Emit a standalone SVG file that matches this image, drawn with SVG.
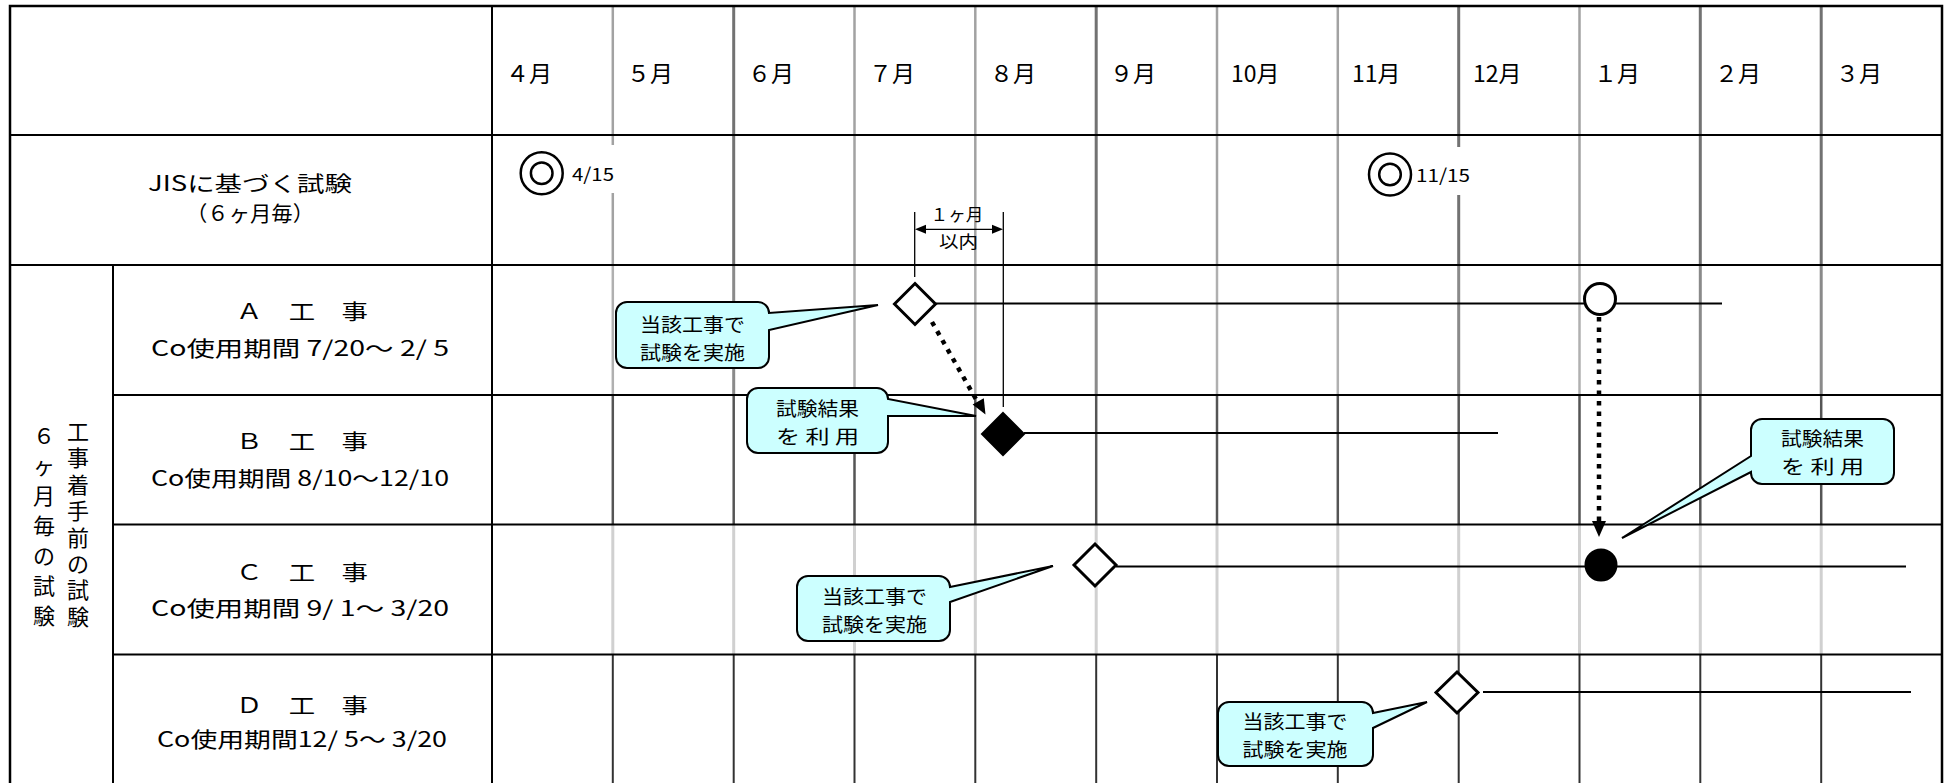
<svg xmlns="http://www.w3.org/2000/svg" width="1945" height="783" viewBox="0 0 1945 783">
<defs>
<style>
text{font-family:"Noto Sans CJK JP","Liberation Sans",sans-serif;fill:#000;dominant-baseline:central}
.mon{font-size:23px}
.lbl{font-size:21px;text-anchor:middle}
.vt{font-size:22px;text-anchor:middle}
.cl{font-size:19px;text-anchor:middle}
.sm{font-size:18px}
.dim{font-size:17px;text-anchor:middle}
.grid{stroke:#000;stroke-width:2;fill:none}
.lt{stroke:#a2a2a2;stroke-width:2.5}
.dk{stroke:#727272;stroke-width:3}
.la{stroke:#b0b0b0;stroke-width:2.5}
.da{stroke:#8a8a8a;stroke-width:3}
.lb{stroke:#555;stroke-width:2.5}
.lc{stroke:#d0d0d0;stroke-width:3}
.ld{stroke:#333;stroke-width:2}
.bar{stroke:#000;stroke-width:2;fill:none}
.thin{stroke:#000;stroke-width:1.3;fill:none}
.dot{stroke:#000;stroke-width:4.5;stroke-dasharray:4.5 6;fill:none}
.open{fill:#fff;stroke:#000;stroke-width:3}
.fill{fill:#000;stroke:#000;stroke-width:2}
.call{fill:#ccffff;stroke:#000;stroke-width:2}
.ring{fill:none;stroke:#000;stroke-width:2.5}
</style>
</defs>
<rect x="0" y="0" width="1945" height="783" fill="#fff"/>

<g id="month-lines">
<g>
<line class="lt" x1="612.8" y1="7" x2="612.8" y2="265"/>
<line class="dk" x1="733.7" y1="7" x2="733.7" y2="265"/>
<line class="lt" x1="854.5" y1="7" x2="854.5" y2="265"/>
<line class="lt" x1="975.3" y1="7" x2="975.3" y2="265"/>
<line class="dk" x1="1096.2" y1="7" x2="1096.2" y2="265"/>
<line class="lt" x1="1217" y1="7" x2="1217" y2="265"/>
<line class="lt" x1="1337.8" y1="7" x2="1337.8" y2="265"/>
<line class="dk" x1="1458.7" y1="7" x2="1458.7" y2="265"/>
<line class="lt" x1="1579.5" y1="7" x2="1579.5" y2="265"/>
<line class="dk" x1="1700.3" y1="7" x2="1700.3" y2="265"/>
<line class="dk" x1="1821.2" y1="7" x2="1821.2" y2="265"/>
</g>
<g>
<line class="la" x1="612.8" y1="265" x2="612.8" y2="395"/>
<line class="da" x1="733.7" y1="265" x2="733.7" y2="395"/>
<line class="la" x1="854.5" y1="265" x2="854.5" y2="395"/>
<line class="la" x1="975.3" y1="265" x2="975.3" y2="395"/>
<line class="da" x1="1096.2" y1="265" x2="1096.2" y2="395"/>
<line class="la" x1="1217" y1="265" x2="1217" y2="395"/>
<line class="la" x1="1337.8" y1="265" x2="1337.8" y2="395"/>
<line class="da" x1="1458.7" y1="265" x2="1458.7" y2="395"/>
<line class="la" x1="1579.5" y1="265" x2="1579.5" y2="395"/>
<line class="da" x1="1700.3" y1="265" x2="1700.3" y2="395"/>
<line class="da" x1="1821.2" y1="265" x2="1821.2" y2="395"/>
</g>
<g class="lb">
<line x1="612.8" y1="395" x2="612.8" y2="525"/>
<line x1="733.7" y1="395" x2="733.7" y2="525"/>
<line x1="854.5" y1="395" x2="854.5" y2="525"/>
<line x1="975.3" y1="395" x2="975.3" y2="525"/>
<line x1="1096.2" y1="395" x2="1096.2" y2="525"/>
<line x1="1217" y1="395" x2="1217" y2="525"/>
<line x1="1337.8" y1="395" x2="1337.8" y2="525"/>
<line x1="1458.7" y1="395" x2="1458.7" y2="525"/>
<line x1="1579.5" y1="395" x2="1579.5" y2="525"/>
<line x1="1700.3" y1="395" x2="1700.3" y2="525"/>
<line x1="1821.2" y1="395" x2="1821.2" y2="525"/>
</g>
<g class="lc">
<line x1="612.8" y1="525" x2="612.8" y2="655"/>
<line x1="733.7" y1="525" x2="733.7" y2="655"/>
<line x1="854.5" y1="525" x2="854.5" y2="655"/>
<line x1="975.3" y1="525" x2="975.3" y2="655"/>
<line x1="1096.2" y1="525" x2="1096.2" y2="655"/>
<line x1="1217" y1="525" x2="1217" y2="655"/>
<line x1="1337.8" y1="525" x2="1337.8" y2="655"/>
<line x1="1458.7" y1="525" x2="1458.7" y2="655"/>
<line x1="1579.5" y1="525" x2="1579.5" y2="655"/>
<line x1="1700.3" y1="525" x2="1700.3" y2="655"/>
<line x1="1821.2" y1="525" x2="1821.2" y2="655"/>
</g>
<g class="ld">
<line x1="612.8" y1="655" x2="612.8" y2="783"/>
<line x1="733.7" y1="655" x2="733.7" y2="783"/>
<line x1="854.5" y1="655" x2="854.5" y2="783"/>
<line x1="975.3" y1="655" x2="975.3" y2="783"/>
<line x1="1096.2" y1="655" x2="1096.2" y2="783"/>
<line x1="1217" y1="655" x2="1217" y2="783"/>
<line x1="1337.8" y1="655" x2="1337.8" y2="783"/>
<line x1="1458.7" y1="655" x2="1458.7" y2="783"/>
<line x1="1579.5" y1="655" x2="1579.5" y2="783"/>
<line x1="1700.3" y1="655" x2="1700.3" y2="783"/>
<line x1="1821.2" y1="655" x2="1821.2" y2="783"/>
</g>
</g>

<g id="table-grid" class="grid">
<path d="M10,790 V6 H1942 V790" stroke-width="2.5"/>
<line x1="10" y1="135" x2="1942" y2="135"/>
<line x1="10" y1="265" x2="1942" y2="265"/>
<line x1="113" y1="395" x2="1942" y2="395"/>
<line x1="113" y1="524.5" x2="1942" y2="524.5"/>
<line x1="113" y1="654.5" x2="1942" y2="654.5"/>
<line x1="113" y1="265" x2="113" y2="790"/>
<line x1="492" y1="6" x2="492" y2="790"/>
</g>

<g id="month-header" class="mon">
<text x="506" y="72">４月</text>
<text x="627" y="72">５月</text>
<text x="748" y="72">６月</text>
<text x="869" y="72">７月</text>
<text x="990" y="72">８月</text>
<text x="1110" y="72">９月</text>
<text x="1231" y="72">10月</text>
<text x="1352" y="72">11月</text>
<text x="1473" y="72">12月</text>
<text x="1594" y="72">１月</text>
<text x="1715" y="72">２月</text>
<text x="1836" y="72">３月</text>
</g>

<g id="jis-label">
<text class="lbl" x="250" y="182" textLength="204" lengthAdjust="spacingAndGlyphs">JISに基づく試験</text>
<text class="lbl" x="250" y="212" textLength="128" lengthAdjust="spacingAndGlyphs">（６ヶ月毎）</text>
</g>

<g id="side-label-6months" class="vt">
<text><tspan x="44" y="434">６</tspan><tspan x="44" y="464">ヶ</tspan><tspan x="44" y="494">月</tspan><tspan x="44" y="524">毎</tspan><tspan x="44" y="554">の</tspan><tspan x="44" y="584">試</tspan><tspan x="44" y="614">験</tspan></text>
</g>
<g id="side-label-pre" class="vt">
<text><tspan x="78" y="430">工</tspan><tspan x="78" y="456.4">事</tspan><tspan x="78" y="482.8">着</tspan><tspan x="78" y="509.2">手</tspan><tspan x="78" y="535.6">前</tspan><tspan x="78" y="562">の</tspan><tspan x="78" y="588.4">試</tspan><tspan x="78" y="614.8">験</tspan></text>
</g>

<g id="row-A-label">
<text class="lbl" x="302" y="310" textLength="132" lengthAdjust="spacingAndGlyphs">Ａ　工　事</text>
<text class="lbl" x="300" y="347" textLength="298" lengthAdjust="spacingAndGlyphs">Co使用期間 7/20～ 2/ 5</text>
</g>
<g id="row-B-label">
<text class="lbl" x="302" y="440" textLength="132" lengthAdjust="spacingAndGlyphs">Ｂ　工　事</text>
<text class="lbl" x="300" y="477" textLength="298" lengthAdjust="spacingAndGlyphs">Co使用期間 8/10～12/10</text>
</g>
<g id="row-C-label">
<text class="lbl" x="302" y="571" textLength="132" lengthAdjust="spacingAndGlyphs">Ｃ　工　事</text>
<text class="lbl" x="300" y="607" textLength="298" lengthAdjust="spacingAndGlyphs">Co使用期間 9/ 1～ 3/20</text>
</g>
<g id="row-D-label">
<text class="lbl" x="302" y="704" textLength="132" lengthAdjust="spacingAndGlyphs">Ｄ　工　事</text>
<text class="lbl" x="302" y="738" textLength="290" lengthAdjust="spacingAndGlyphs">Co使用期間12/ 5～ 3/20</text>
</g>

<g id="jis-test-0415">
<circle cx="541.7" cy="173.3" r="21" fill="#fff" stroke="#000" stroke-width="2.5"/>
<circle class="ring" cx="541.7" cy="173.3" r="10.8"/>
<rect x="568" y="145" width="51" height="48" fill="#fff"/>
<text class="sm" x="572" y="173" textLength="42" lengthAdjust="spacingAndGlyphs">4/15</text>
</g>
<g id="jis-test-1115">
<circle cx="1390" cy="174.5" r="21" fill="#fff" stroke="#000" stroke-width="2.5"/>
<circle class="ring" cx="1390" cy="174.5" r="10.8"/>
<rect x="1413" y="147" width="59" height="48" fill="#fff"/>
<text class="sm" x="1416" y="174" textLength="54" lengthAdjust="spacingAndGlyphs">11/15</text>
</g>

<g id="connectors">
<line class="bar" x1="936" y1="303.5" x2="1722" y2="303.5"/>
<line class="bar" x1="1024" y1="433" x2="1498" y2="433"/>
<line class="bar" x1="1116" y1="566.5" x2="1906" y2="566.5"/>
<line class="bar" x1="1483" y1="692" x2="1911" y2="692"/>
<line class="thin" x1="914.7" y1="212" x2="914.7" y2="277"/>
<line class="thin" x1="1003.3" y1="212" x2="1003.3" y2="407"/>
<line class="thin" x1="924" y1="229.3" x2="994" y2="229.3"/>
<polygon points="915,229.3 926,224.8 926,233.8" fill="#000"/>
<polygon points="1003,229.3 992,224.8 992,233.8" fill="#000"/>
<line class="dot" x1="932" y1="322" x2="977" y2="401"/>
<polygon points="985.5,414.5 972.6,404.6 983.8,398.2" fill="#000"/>
<line class="dot" x1="1599" y1="317" x2="1599" y2="522"/>
<polygon points="1599,537 1592,521 1606,521" fill="#000"/>
</g>

<g id="dimension-label">
<text class="dim" x="957" y="213" textLength="53" lengthAdjust="spacingAndGlyphs">１ヶ月</text>
<text class="dim" x="958.5" y="240.5" textLength="39" lengthAdjust="spacingAndGlyphs">以内</text>
</g>

<g id="marker-A-start"><polygon class="open" points="915,283.5 935.5,304 915,324.5 894.5,304"/></g>
<g id="marker-A-test"><circle class="open" cx="1600" cy="299" r="15.5"/></g>
<g id="marker-B-start"><polygon class="fill" points="1003,413 1024,434 1003,455 982,434"/></g>
<g id="marker-C-start"><polygon class="open" points="1095,544 1116,565 1095,586 1074,565"/></g>
<g id="marker-C-use"><circle class="fill" cx="1601" cy="565" r="15.5"/></g>
<g id="marker-D-start"><polygon class="open" points="1457,672 1478,692.5 1457,713 1436,692.5"/></g>

<g id="callout-A">
<path class="call" d="M627,302 H758 A11 11 0 0 1 769 313 L878 305 L769 330 V357 A11 11 0 0 1 758 368 H627 A11 11 0 0 1 616 357 V313 A11 11 0 0 1 627 302 Z"/>
<text class="cl" x="692.5" y="323" textLength="105" lengthAdjust="spacingAndGlyphs">当該工事で</text>
<text class="cl" x="692.5" y="351" textLength="105" lengthAdjust="spacingAndGlyphs">試験を実施</text>
</g>
<g id="callout-B">
<path class="call" d="M758,388 H877 A11 11 0 0 1 888 399 L976 416 L888 416 V442 A11 11 0 0 1 877 453 H758 A11 11 0 0 1 747 442 V399 A11 11 0 0 1 758 388 Z"/>
<text class="cl" x="817.5" y="407" textLength="83" lengthAdjust="spacingAndGlyphs">試験結果</text>
<text class="cl" x="817.5" y="435" textLength="83" lengthAdjust="spacingAndGlyphs">を 利 用</text>
</g>
<g id="callout-C">
<path class="call" d="M808,576 H939 A11 11 0 0 1 950 587 L1053 566 L950 602 V630 A11 11 0 0 1 939 641 H808 A11 11 0 0 1 797 630 V587 A11 11 0 0 1 808 576 Z"/>
<text class="cl" x="874.5" y="595" textLength="105" lengthAdjust="spacingAndGlyphs">当該工事で</text>
<text class="cl" x="874.5" y="623" textLength="105" lengthAdjust="spacingAndGlyphs">試験を実施</text>
</g>
<g id="callout-D">
<path class="call" d="M1229,702 H1362 A11 11 0 0 1 1373 713 L1427 702 L1373 728 V755 A11 11 0 0 1 1362 766 H1229 A11 11 0 0 1 1218 755 V713 A11 11 0 0 1 1229 702 Z"/>
<text class="cl" x="1295" y="720" textLength="105" lengthAdjust="spacingAndGlyphs">当該工事で</text>
<text class="cl" x="1295" y="748" textLength="105" lengthAdjust="spacingAndGlyphs">試験を実施</text>
</g>
<g id="callout-C-use">
<path class="call" d="M1762,419 H1883 A11 11 0 0 1 1894 430 V473 A11 11 0 0 1 1883 484 H1762 A11 11 0 0 1 1751 473 V472 L1622 538 L1751 456 V430 A11 11 0 0 1 1762 419 Z"/>
<text class="cl" x="1822.5" y="437" textLength="83" lengthAdjust="spacingAndGlyphs">試験結果</text>
<text class="cl" x="1822.5" y="465" textLength="83" lengthAdjust="spacingAndGlyphs">を 利 用</text>
</g>
</svg>
